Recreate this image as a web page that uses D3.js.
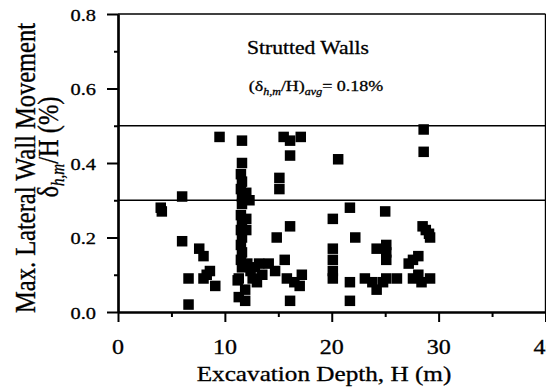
<!DOCTYPE html>
<html>
<head>
<meta charset="utf-8">
<script src="https://cdn.jsdelivr.net/npm/d3@7"></script>
<style>
  html, body { margin: 0; padding: 0; background: #fff; }
  svg text { font-family: "Liberation Serif", "DejaVu Serif", serif; }
</style>
</head>
<body>
<svg id="chart" width="546" height="392"></svg>
<script>
// Excavation depth H (m) of each strutted-wall case
const depthH = [
  4.0, 4.1, 6.0, 6.0, 6.6, 6.6, 7.6, 8.0, 8.0, 8.6, 9.1, 8.3, 9.5,
  11.6, 11.6, 11.5, 11.6, 11.5, 11.6, 11.6, 11.5, 11.6, 11.5, 11.6, 11.5, 11.6, 11.5, 11.6,
  11.3, 11.2, 11.9, 11.3, 11.9, 12.0, 12.0, 12.0, 12.3, 12.1, 12.4, 12.6, 13.0, 12.8, 13.2, 13.5,
  14.1, 14.7, 14.85, 15.5, 16.1, 17.1, 16.1, 15.1, 15.1, 16.1, 15.6, 15.8, 16.1, 17.2, 17.0, 16.5,
  20.6, 20.1, 20.1, 20.1, 20.1, 20.1, 21.7, 22.2, 21.7, 21.7, 23.1, 24.2, 24.2, 23.8,
  25.0, 25.1, 25.1, 25.1, 25.1, 24.8, 26.1, 27.2, 27.6, 28.1, 27.6, 28.1, 28.4, 29.2,
  28.6, 28.6, 28.5, 29.1, 28.8, 29.2
];
// Maximum lateral wall movement normalised by depth, δh,m/H (%)
const maxMovement = [
  0.28, 0.27, 0.31, 0.19, 0.09, 0.02, 0.17, 0.15, 0.09, 0.11, 0.07, 0.10, 0.47,
  0.46, 0.40, 0.37, 0.35, 0.33, 0.31, 0.29, 0.26, 0.24, 0.22, 0.20, 0.18, 0.16, 0.14, 0.12,
  0.09, 0.085, 0.06, 0.04, 0.03, 0.32, 0.25, 0.22, 0.30, 0.13, 0.11, 0.09, 0.08, 0.12, 0.13, 0.10,
  0.13, 0.11, 0.20, 0.47, 0.46, 0.47, 0.42, 0.36, 0.33, 0.23, 0.14, 0.09, 0.03, 0.10, 0.07, 0.08,
  0.41, 0.25, 0.17, 0.14, 0.11, 0.09, 0.28, 0.20, 0.08, 0.03, 0.09, 0.17, 0.06, 0.08,
  0.27, 0.18, 0.16, 0.14, 0.09, 0.08, 0.09, 0.13, 0.14, 0.15, 0.09, 0.10, 0.08, 0.09,
  0.49, 0.43, 0.23, 0.21, 0.22, 0.20
];
// Bounding lines of the data band
const bandLines = [0.3, 0.5];
const xMajorTicks = [0, 10, 20, 30, 40];
const xMinorTicks = [5, 15, 25, 35];
const yMajorTicks = [0.0, 0.2, 0.4, 0.6, 0.8];
const yMinorTicks = [0.1, 0.3, 0.5, 0.7];
const titleText = "Strutted Walls";
const avgValue = "0.18%";

const svg = d3.select("#chart");
const plotLeft = 118, plotRight = 545.5, plotTop = 14, plotBottom = 312;
const SX = 1.2; // horizontal stretch applied to lettering
const serif = "'Liberation Serif', 'DejaVu Serif', serif";

const x = d3.scaleLinear().domain([0, 40]).range([plotLeft, plotRight]);
const y = d3.scaleLinear().domain([0, 0.8]).range([plotBottom, plotTop]);

function label(parent, px, py, size, anchor, rotate) {
  return parent.append("text")
    .attr("transform", `translate(${px},${py}) scale(${SX},1)` + (rotate ? " rotate(-90)" : ""))
    .attr("text-anchor", anchor)
    .attr("font-family", serif)
    .attr("font-size", size)
    .attr("fill", "#000")
    .attr("stroke", "#000")
    .attr("stroke-width", 0.3);
}

// frame (top and right)
svg.append("line").attr("x1", plotLeft).attr("x2", plotRight).attr("y1", y(0.8)).attr("y2", y(0.8))
  .attr("stroke", "#000").attr("stroke-width", 1.6);
svg.append("line").attr("x1", plotRight).attr("x2", plotRight).attr("y1", y(0.8)).attr("y2", y(0))
  .attr("stroke", "#000").attr("stroke-width", 1.4);

// band lines
svg.selectAll("line.band").data(bandLines).join("line")
  .attr("class", "band")
  .attr("x1", plotLeft).attr("x2", plotRight)
  .attr("y1", d => y(d)).attr("y2", d => y(d))
  .attr("stroke", "#000").attr("stroke-width", 1.6);

// axes
function styleAxis(g) {
  g.select(".domain").attr("stroke", "#000").attr("stroke-width", 2.2);
  g.selectAll(".tick line").attr("stroke", "#000").attr("stroke-width", 2);
  g.selectAll(".tick text").remove();
}
svg.append("g").attr("transform", `translate(0,${plotBottom})`)
  .call(d3.axisBottom(x).tickValues(xMinorTicks).tickSize(5).tickSizeOuter(0).tickFormat(""))
  .call(styleAxis);
svg.append("g").attr("transform", `translate(0,${plotBottom})`)
  .call(d3.axisBottom(x).tickValues(xMajorTicks).tickSize(10).tickSizeOuter(0).tickFormat(""))
  .call(styleAxis);
svg.append("g").attr("transform", `translate(${plotLeft},0)`)
  .call(d3.axisLeft(y).tickValues(yMinorTicks).tickSize(4).tickSizeOuter(0).tickFormat(""))
  .call(styleAxis);
svg.append("g").attr("transform", `translate(${plotLeft},0)`)
  .call(d3.axisLeft(y).tickValues(yMajorTicks).tickSize(11).tickSizeOuter(0).tickFormat(""))
  .call(styleAxis);

// tick labels
yMajorTicks.forEach(v => {
  label(svg, 96, y(v) + 6.5, 17, "end").text(d3.format(".1f")(v));
});
xMajorTicks.forEach(v => {
  label(svg, x(v), 354, 20, "middle").text(v);
});

// axis titles
label(svg, 324, 381, 21, "middle").text("Excavation Depth, H (m)");
label(svg, 35, 168, 24.5, "middle", true).text("Max. Lateral Wall Movement");
const yl2 = label(svg, 58, 147, 24.5, "middle", true);
yl2.append("tspan").text("δ");
yl2.append("tspan").attr("font-size", 15).attr("font-style", "italic").attr("dy", 5).text("h,m");
yl2.append("tspan").attr("dy", -5).text("/H (%)");

// in-plot annotations
label(svg, 308, 54, 18, "middle").text(titleText);
const ann = label(svg, 316, 91, 15, "middle");
ann.append("tspan").text("(δ");
ann.append("tspan").attr("font-size", 10).attr("font-style", "italic").attr("dy", 4).text("h,m");
ann.append("tspan").attr("dy", -4).text("/H)");
ann.append("tspan").attr("font-size", 10).attr("font-style", "italic").attr("dy", 4).text("avg");
ann.append("tspan").attr("dy", -4).text("= " + avgValue);

// data squares
const pts = depthH.map((h, i) => ({ h, v: maxMovement[i] }));
const sz = 10.5;
svg.append("g").selectAll("rect").data(pts).join("rect")
  .attr("x", d => x(d.h) - sz / 2)
  .attr("y", d => y(d.v) - sz / 2)
  .attr("width", sz).attr("height", sz)
  .attr("fill", "#000");
</script>
</body>
</html>
